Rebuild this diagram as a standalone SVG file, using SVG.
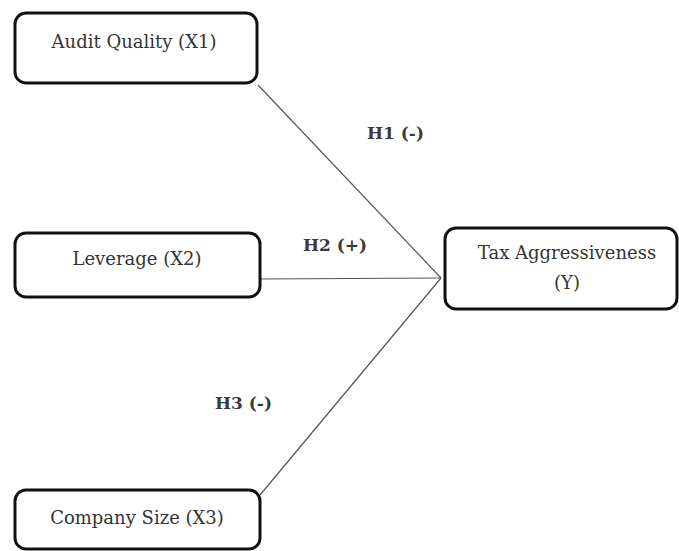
<svg xmlns="http://www.w3.org/2000/svg" width="679" height="551" viewBox="0 0 679 551">
<style>
.box{fill:#fff;stroke:#111;stroke-width:3}
.t{font-family:"DejaVu Serif","Liberation Serif",serif;font-size:18px;fill:#333;text-anchor:middle}
.lbl{font-family:"DejaVu Serif","Liberation Serif",serif;font-size:17px;font-weight:bold;fill:#3a3a3a}
.c{stroke:#555;stroke-width:1.2;fill:none}
</style>
<rect width="679" height="551" fill="#fff"/>
<g id="connectors">
<line class="c" x1="258" y1="85" x2="441" y2="278"/>
<line class="c" x1="260" y1="279" x2="441" y2="278"/>
<line class="c" x1="260" y1="495" x2="441" y2="278"/>
<text class="lbl" x="367" y="139">H1 (-)</text>
<text class="lbl" x="303" y="251">H2 (+)</text>
<text class="lbl" x="215" y="409">H3 (-)</text>
</g>
<g id="x1">
<rect class="box" x="15" y="13" width="242" height="70" rx="11"/>
<text class="t" x="134" y="48">Audit Quality (X1)</text>
</g>
<g id="x2">
<rect class="box" x="15" y="233" width="245" height="64" rx="11"/>
<text class="t" x="137" y="265">Leverage (X2)</text>
</g>
<g id="x3">
<rect class="box" x="15" y="490" width="245" height="59" rx="11"/>
<text class="t" x="137" y="524">Company Size (X3)</text>
</g>
<g id="y">
<rect class="box" x="445" y="228" width="232" height="81" rx="11"/>
<text class="t" x="567" y="259">Tax Aggressiveness</text>
<text class="t" x="567" y="289">(Y)</text>
</g>
</svg>
